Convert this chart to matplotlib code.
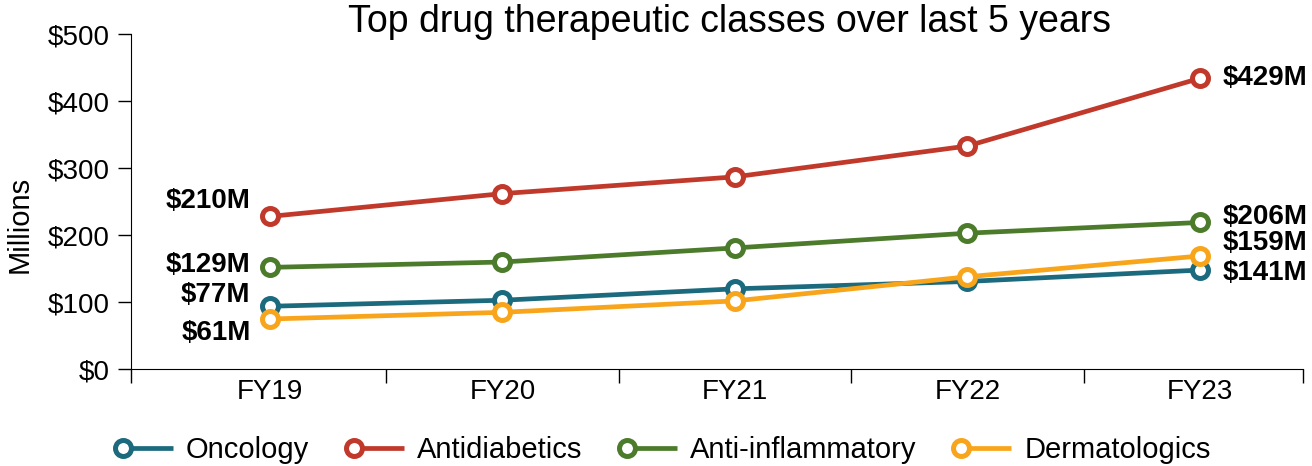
import matplotlib
matplotlib.use("Agg")
import matplotlib.pyplot as plt
from matplotlib.lines import Line2D
from matplotlib.legend_handler import HandlerBase

plt.rcParams['font.family'] = ['Liberation Sans', 'DejaVu Sans']

# datos
anios = ["FY19", "FY20", "FY21", "FY22", "FY23"]
clases = ["Oncology", "Antidiabetics", "Anti-inflammatory", "Dermatologics"]
oncologia = [94, 103, 120, 131, 148]
antidiabeticos = [228, 262, 287, 333, 434]
antiinflamatorios = [152, 160, 181, 203, 219]
dermatologicos = [75, 85, 102, 138, 169]
etiquetas_inicio = ["$77M", "$210M", "$129M", "$61M"]
etiquetas_fin = ["$141M", "$429M", "$206M", "$159M"]
colores = ["#1b6a7d", "#c0392b", "#4b7b2b", "#f8a51c"]

series = [oncologia, antidiabeticos, antiinflamatorios, dermatologicos]

# desplazamientos de las etiquetas (en puntos)
offs_inicio = [(-14, 8), (-14, 11), (-14, 2), (-14, -10)]
offs_fin = [(16, -2), (16, 0), (16, 4), (16, 9)]


class CirculoLinea(HandlerBase):
    # circulo a la izquierda y linea hacia la derecha
    def create_artists(self, legend, orig_handle, xdescent, ydescent,
                       width, height, fontsize, trans):
        y = height / 2 - ydescent
        x0 = -xdescent + 6
        c = orig_handle.get_color()
        linea = Line2D([x0, -xdescent + width], [y, y], color=c, lw=3.4,
                       solid_capstyle='butt')
        marca = Line2D([x0], [y], marker='o', ms=11.5, mfc='white', mec=c, mew=3.6,
                       linestyle='none')
        linea.set_transform(trans)
        marca.set_transform(trans)
        return [linea, marca]


fig = plt.figure(figsize=(13.12, 4.66), dpi=100)
ax = fig.add_axes([0.0998, 0.2075, 0.8933, 0.7195])

x = list(range(len(anios)))
lineas = []
for nombre, valores, color in zip(clases, series, colores):
    l, = ax.plot(x, valores, color=color, lw=3.4, marker='o', ms=11.5,
                 mfc='white', mec=color, mew=3.6, label=nombre)
    lineas.append(l)

for valores, ini, fin, oi, of in zip(series, etiquetas_inicio, etiquetas_fin, offs_inicio, offs_fin):
    ax.annotate(ini, (x[0], valores[0]), xytext=oi, textcoords='offset points',
                ha='right', va='center', fontsize=20, fontweight='bold')
    ax.annotate(fin, (x[-1], valores[-1]), xytext=of, textcoords='offset points',
                ha='left', va='center', fontsize=20, fontweight='bold')

ax.set_xlim(-0.598, 4.443)
ax.set_ylim(0, 500)
ax.set_yticks([0, 100, 200, 300, 400, 500])
ax.set_yticklabels(["$%d" % v for v in [0, 100, 200, 300, 400, 500]])
ax.tick_params(axis='y', labelsize=20, length=9.5, width=1, pad=5.5)

ax.set_xticks(x)
ax.set_xticklabels(anios)
ax.tick_params(axis='x', which='major', length=0, labelsize=20, pad=7)
ax.set_xticks([-0.598, 0.5, 1.5, 2.5, 3.5, 4.443], minor=True)
ax.tick_params(axis='x', which='minor', length=10, width=1)

for s in ['top', 'right']:
    ax.spines[s].set_visible(False)

ax.set_ylabel("Millions", fontsize=21)
ax.yaxis.set_label_coords(-0.083, 0.433)

fig.text(730 / 1312, 1 - 22 / 466, "Top drug therapeutic classes over last 5 years",
         ha='center', va='center', fontsize=27)

fig.legend(lineas, clases, loc='center', bbox_to_anchor=(0.505, 1 - 450 / 466),
           ncol=4, frameon=False, fontsize=21, handlelength=2.0,
           handletextpad=0.45, columnspacing=1.25,
           handler_map={Line2D: CirculoLinea()})

plt.savefig("out.png", dpi=100)
